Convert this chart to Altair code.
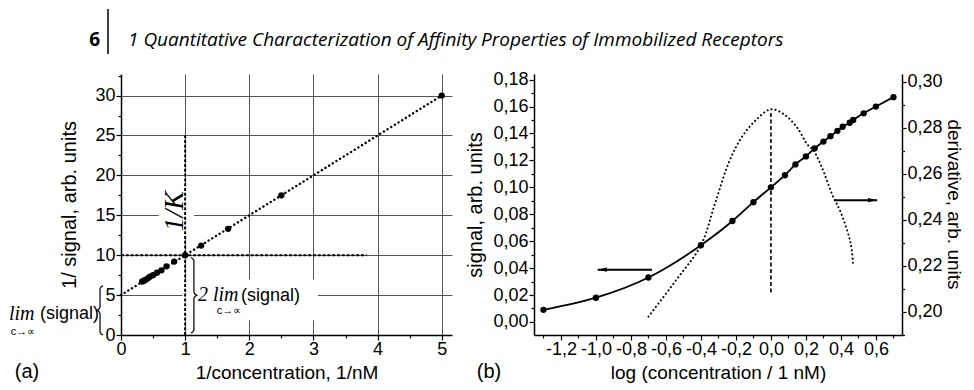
import altair as alt
import pandas as pd

# ---------------- data ----------------
# (a) double-reciprocal plot
inv_conc = [0.33, 0.36, 0.38, 0.42, 0.45, 0.50, 0.56, 0.63, 0.71, 0.83, 1.00, 1.25, 1.67, 2.50, 5.00]
inv_signal = [6.7, 6.8, 6.9, 7.1, 7.3, 7.5, 7.8, 8.1, 8.6, 9.2, 10.0, 11.2, 13.3, 17.5, 30.0]
fit_x = [0.0, 5.0]
fit_y = [5.0, 30.0]
kd_line_x = [1.0, 1.0]
kd_line_y = [0.0, 25.0]
half_line_x = [0.0, 3.83]
half_line_y = [10.0, 10.0]
a_x_ticks = [0, 0.5, 1, 1.5, 2, 2.5, 3, 3.5, 4, 4.5, 5]
a_y_ticks = [0, 2.5, 5, 7.5, 10, 12.5, 15, 17.5, 20, 22.5, 25, 27.5, 30, 32.5]

# (b) signal and derivative vs log concentration
log_conc = [-1.3, -1.0, -0.7, -0.4, -0.22, -0.1, 0.0, 0.08, 0.14, 0.2, 0.25, 0.3, 0.34, 0.38,
            0.41, 0.45, 0.47, 0.53, 0.6, 0.7]
signal = [0.009, 0.018, 0.033, 0.057, 0.075, 0.089, 0.100, 0.109, 0.117, 0.123, 0.129, 0.134,
          0.138, 0.142, 0.145, 0.148, 0.150, 0.155, 0.160, 0.167]
deriv_log = [-0.70, -0.55, -0.40, -0.32, -0.24, -0.17, -0.09, 0.0, 0.08, 0.15, 0.21, 0.24,
             0.29, 0.35, 0.40, 0.455, 0.47]
derivative = [0.198, 0.213, 0.229, 0.247, 0.265, 0.2755, 0.283, 0.288, 0.2855, 0.280, 0.2725,
              0.2705, 0.263, 0.251, 0.243, 0.230, 0.220]
mid_line_x = [0.0, 0.0]
mid_line_y = [0.2085, 0.2876]
arrow_left_x = [-0.68, -0.99]
arrow_left_y = [0.0388, 0.0388]
arrow_right_x = [0.36, 0.607]
arrow_right_y = [0.2485, 0.2485]
b_x_ticks = [-1.3, -1.2, -1.1, -1.0, -0.9, -0.8, -0.7, -0.6, -0.5, -0.4, -0.3, -0.2, -0.1,
             0.0, 0.1, 0.2, 0.3, 0.4, 0.5, 0.6, 0.7]
b_yl_ticks = [0.00, 0.01, 0.02, 0.03, 0.04, 0.05, 0.06, 0.07, 0.08, 0.09, 0.10, 0.11, 0.12,
              0.13, 0.14, 0.15, 0.16, 0.17, 0.18]
b_yr_ticks = [0.19, 0.20, 0.21, 0.22, 0.23, 0.24, 0.25, 0.26, 0.27, 0.28, 0.29, 0.30]

# ---------------- layout ----------------
SANS = "Liberation Sans"
SERIF = "Liberation Serif"
H = 261
WA, WB = 331, 368
A_X = [0, 5.16]
A_Y = [0, 32.7]
B_X = [-1.354, 0.749]
B_YL = [-0.0097, 0.1842]
B_YR = [0.190, 0.3033]


def cond(test, yes, no):
    return {"condition": {"test": test, "value": yes}, "value": no}


MINUS = "\u2212"

ax_a_x = alt.Axis(values=a_x_ticks, grid=True,
                  labelExpr="datum.value % 1 == 0 ? format(datum.value, 'd') : ''",
                  tickSize=cond("datum.value % 1 == 0", 5, 3), labelPadding=0,
                  gridOpacity=cond("datum.value % 1 == 0 && datum.value > 0", 1, 0),
                  title="1/concentration, 1/nM", titleY=43.5, titleBaseline="alphabetic",
                  titleFontSize=19)
ax_a_y = alt.Axis(values=a_y_ticks, grid=True,
                  labelExpr="datum.value % 5 == 0 ? format(datum.value, 'd') : ''",
                  tickSize=cond("datum.value % 5 == 0", 5, 3),
                  gridOpacity=cond("datum.value % 5 == 0 && datum.value > 0", 1, 0),
                  title="1/ signal, arb. units", titlePadding=15)
ax_b_x = alt.Axis(values=b_x_ticks, grid=False,
                  labelExpr="round(datum.value*10) % 2 == 0 ? replace(replace(format(datum.value, '.1f'), '.', ','), '" + MINUS + "', '-') : ''",
                  tickSize=cond("round(datum.value*10) % 2 == 0", 5, 3), labelPadding=0,
                  title="log (concentration / 1 nM)", titleY=43.5, titleBaseline="alphabetic",
                  titleFontSize=19)
ax_b_yl = alt.Axis(values=b_yl_ticks, grid=False, orient="left",
                   labelExpr="round(datum.value*100) % 2 == 0 ? replace(format(datum.value, '.2f'), '.', ',') : ''",
                   tickSize=cond("round(datum.value*100) % 2 == 0", 5, 3),
                   title="signal, arb. units", titlePadding=7)
ax_b_yr = alt.Axis(values=b_yr_ticks, grid=False, orient="right",
                   labelExpr="round(datum.value*100) % 2 == 0 ? replace(format(datum.value, '.2f'), '.', ',') : ''",
                   tickSize=cond("round(datum.value*100) % 2 == 0", 4, 2.5),
                   title=None)


def XA(f="x"):
    return alt.X(f"{f}:Q", scale=alt.Scale(domain=A_X, nice=False, zero=False), axis=ax_a_x)


def YA(f="y"):
    return alt.Y(f"{f}:Q", scale=alt.Scale(domain=A_Y, nice=False, zero=False), axis=ax_a_y)


def XB(f="x"):
    return alt.X(f"{f}:Q", scale=alt.Scale(domain=B_X, nice=False, zero=False), axis=ax_b_x)


def YL(f="y"):
    return alt.Y(f"{f}:Q", scale=alt.Scale(domain=B_YL, nice=False, zero=False), axis=ax_b_yl)


def YR(f="y"):
    return alt.Y(f"{f}:Q", scale=alt.Scale(domain=B_YR, nice=False, zero=False), axis=ax_b_yr)


one = pd.DataFrame({"k": [0]})

# ---------------- panel (a) ----------------
a_pts = pd.DataFrame({"x": inv_conc, "y": inv_signal})
a_fit = pd.DataFrame({"x": fit_x, "y": fit_y})
a_vline = pd.DataFrame({"x": kd_line_x, "y": kd_line_y})
a_hline = pd.DataFrame({"x": half_line_x, "y": half_line_y})
# white boxes behind the annotation texts (the grid is interrupted there)
a_mask = pd.DataFrame({"x": [0.59, 0.96], "x2": [1.14, 3.07], "y": [12.3, 1.85], "y2": [18.8, 7.0]})

px_x = WA / (A_X[1] - A_X[0])
px_y = H / (A_Y[1] - A_Y[0])


def brace(name, xc, top, bot, d):
    h = (top - bot) * px_y
    offs = [(-3, 0), (-1.2, 1), (0, 3), (0, h / 2 - 3), (1.2, h / 2 - 1), (3, h / 2),
            (1.2, h / 2 + 1), (0, h / 2 + 3), (0, h - 3), (-1.2, h - 1), (-3, h)]
    return [{"b": name, "i": i, "x": xc + d * dx / px_x, "y": top - dy / px_y}
            for i, (dx, dy) in enumerate(offs)]


a_braces = pd.DataFrame(brace("left", -0.327, 6.17, 0.0, -1) + brace("right", 1.137, 9.7, 0.25, 1))

mask = alt.Chart(a_mask).mark_rect(fill="white").encode(x=XA(), x2="x2", y=YA(), y2="y2")
fit = alt.Chart(a_fit).mark_line(color="black", strokeWidth=2.4, strokeDash=[0.1, 4.2],
                                 strokeCap="round").encode(x=XA(), y=YA())
vline = alt.Chart(a_vline).mark_line(color="black", strokeWidth=2, strokeDash=[3, 1.8]).encode(x=XA(), y=YA())
hline = alt.Chart(a_hline).mark_line(color="black", strokeWidth=2, strokeDash=[3, 1.8]).encode(x=XA(), y=YA())
pts = alt.Chart(a_pts).mark_point(filled=True, color="black", size=40, opacity=1).encode(x=XA(), y=YA())
braces = alt.Chart(a_braces).mark_line(color="black", strokeWidth=1.2).encode(
    x=XA(), y=YA(), detail="b:N", order="i:Q")


def txt(text, x, y, size, font=SERIF, style="normal", weight="normal", align="left",
        baseline="alphabetic", angle=0):
    return alt.Chart(one).mark_text(text=text, font=font, fontSize=size, fontStyle=style,
                                    fontWeight=weight, align=align, baseline=baseline,
                                    angle=angle, color="black").encode(
        x=alt.value(x), y=alt.value(y))


a_texts = [
    txt("lim", -112, H - 15, 20, style="italic"),
    txt("(signal)", -81, H - 16, 18, font=SANS),
    txt("c\u2192\u221d", -98, H - 3, 11, font=SANS, align="center", baseline="middle"),
    txt("2 lim", 77, H - 34, 20, style="italic"),
    txt("(signal)", 120, H - 34, 18, font=SANS),
    txt("c\u2192\u221d", 108, H - 24, 11, font=SANS, align="center", baseline="middle"),
    txt("1/K", 62, H - 15.5 * px_y, 28, style="italic", align="center", angle=270),
    txt("(a)", -94, 298, 20, font=SANS, align="center", baseline="middle"),
    # running header
    txt("6", -21, -28, 19, font="Open Sans", weight="bold", align="right"),
    txt("1  Quantitative Characterization of Affinity Properties of Immobilized Receptors",
        7, -28, 19, font="Open Sans", style="italic"),
]
header_bar = alt.Chart(one).mark_rule(color="black", strokeWidth=1.5).encode(
    x=alt.value(-13), y=alt.value(-65), y2=alt.value(-20))

panel_a = alt.layer(mask, hline, vline, fit, pts, braces, header_bar, *a_texts).properties(
    width=WA, height=H)

# ---------------- panel (b) ----------------
b_sig = pd.DataFrame({"x": log_conc, "y": signal})
b_der = pd.DataFrame({"x": deriv_log, "y": derivative})
b_mid = pd.DataFrame({"x": mid_line_x, "y": mid_line_y})
b_al = pd.DataFrame({"x": arrow_left_x, "y": arrow_left_y})
b_ar = pd.DataFrame({"x": arrow_right_x, "y": arrow_right_y})

sig_line = alt.Chart(b_sig).mark_line(color="black", strokeWidth=1.8, interpolate="monotone").encode(
    x=XB(), y=YL())
sig_pts = alt.Chart(b_sig).mark_point(filled=True, color="black", size=40, opacity=1).encode(
    x=XB(), y=YL())
al_line = alt.Chart(b_al).mark_line(color="black", strokeWidth=2).encode(x=XB(), y=YL())
al_head = alt.Chart(b_al.iloc[[1]]).mark_point(
    shape="M -1 0 L 1 -0.45 L 1 0.45 Z", filled=True, color="black", size=90, opacity=1,
    xOffset=4.5).encode(x=XB(), y=YL())
left_group = alt.layer(sig_line, sig_pts, al_line, al_head)

der_line = alt.Chart(b_der).mark_line(color="black", strokeWidth=2, strokeDash=[0.1, 4],
                                      strokeCap="round", interpolate="catmull-rom").encode(
    x=XB(), y=YR())
mid_line = alt.Chart(b_mid).mark_line(color="black", strokeWidth=1.6, strokeDash=[4, 2.5]).encode(
    x=XB(), y=YR())
ar_line = alt.Chart(b_ar).mark_line(color="black", strokeWidth=2).encode(x=XB(), y=YR())
ar_head = alt.Chart(b_ar.iloc[[1]]).mark_point(
    shape="M 1 0 L -1 -0.45 L -1 0.45 Z", filled=True, color="black", size=90, opacity=1,
    xOffset=-4.5).encode(x=XB(), y=YR())
right_group = alt.layer(der_line, mid_line, ar_line, ar_head)

b_label = txt("(b)", -45, 298, 20, font=SANS, align="center", baseline="middle")
b_right_title = txt("derivative, arb. units", WB + 42, H / 2, 19, font=SANS, align="center",
                    baseline="bottom", angle=90)

panel_b = alt.layer(left_group, right_group, b_label, b_right_title).resolve_scale(
    y="independent").properties(width=WB, height=H)

chart = alt.hconcat(panel_a, panel_b, spacing=82, bounds="flush").properties(
    padding={"left": 1, "top": 0, "right": 2, "bottom": 0}, background="white"
).configure_view(stroke=None).configure_axis(
    labelFont=SANS, labelFontSize=18, labelColor="black", labelPadding=1,
    labelOverlap=False, labelFlush=False,
    titleFont=SANS, titleFontSize=20, titleFontWeight="normal", titleColor="black",
    domainColor="black", domainWidth=1.5, tickColor="black", tickWidth=1.2,
    gridColor="#555555", gridWidth=1)

chart.save("out.html", embed_options={"renderer": "svg", "actions": False})
